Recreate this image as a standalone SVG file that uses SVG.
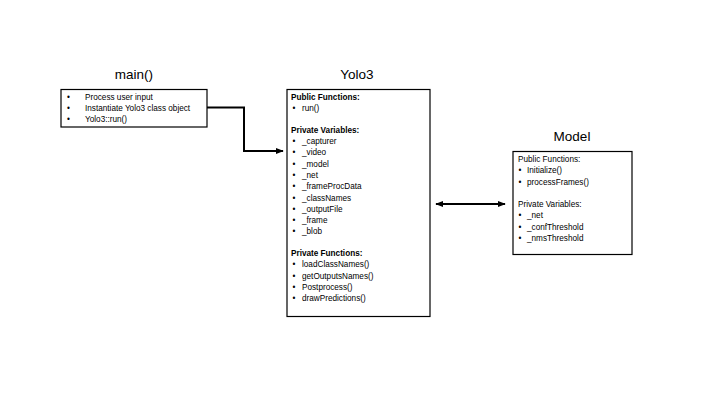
<svg xmlns="http://www.w3.org/2000/svg" width="720" height="405" viewBox="0 0 720 405">
<style>
.box{fill:#fff;stroke:#000;stroke-width:1.2}
.title{font-family:"Liberation Sans",Arial,sans-serif;font-size:13.5px;fill:#000;text-anchor:middle}
.t{font-family:"Liberation Sans",Arial,sans-serif;font-size:8.2px;fill:#000}
.b{font-weight:bold}
.conn{fill:none;stroke:#000;stroke-width:2}
</style>
<defs>
<marker id="ah" viewBox="0 0 10 10" refX="9" refY="5" markerWidth="4" markerHeight="4" orient="auto-start-reverse" markerUnits="strokeWidth">
<path d="M0,1 L10,5 L0,9 z" fill="#000"/>
</marker>
</defs>
<rect width="720" height="405" fill="#fff"/>
<g id="main">
<text class="title" x="134" y="79">main()</text>
<rect class="box" x="61" y="89.5" width="146" height="37.5"/>
<text class="t" x="67" y="100">•</text><text class="t" x="85" y="100">Process user input</text>
<text class="t" x="67" y="111">•</text><text class="t" x="85" y="111">Instantiate Yolo3 class object</text>
<text class="t" x="67" y="122">•</text><text class="t" x="85" y="122">Yolo3::run()</text>
</g>
<g id="yolo3">
<text class="title" x="357" y="79">Yolo3</text>
<rect class="box" x="287" y="89.5" width="143" height="227"/>
<text class="t b" x="291" y="100">Public Functions:</text>
<text class="t" x="292.5" y="111">•</text><text class="t" x="302" y="111">run()</text>
<text class="t b" x="291" y="133">Private Variables:</text>
<text class="t" x="292.5" y="144">•</text><text class="t" x="302" y="144">_capturer</text>
<text class="t" x="292.5" y="155.3">•</text><text class="t" x="302" y="155.3">_video</text>
<text class="t" x="292.5" y="166.6">•</text><text class="t" x="302" y="166.6">_model</text>
<text class="t" x="292.5" y="177.9">•</text><text class="t" x="302" y="177.9">_net</text>
<text class="t" x="292.5" y="189.2">•</text><text class="t" x="302" y="189.2">_frameProcData</text>
<text class="t" x="292.5" y="200.5">•</text><text class="t" x="302" y="200.5">_classNames</text>
<text class="t" x="292.5" y="211.8">•</text><text class="t" x="302" y="211.8">_outputFile</text>
<text class="t" x="292.5" y="223.1">•</text><text class="t" x="302" y="223.1">_frame</text>
<text class="t" x="292.5" y="234.4">•</text><text class="t" x="302" y="234.4">_blob</text>
<text class="t b" x="291" y="256">Private Functions:</text>
<text class="t" x="292.5" y="267.3">•</text><text class="t" x="302" y="267.3">loadClassNames()</text>
<text class="t" x="292.5" y="278.6">•</text><text class="t" x="302" y="278.6">getOutputsNames()</text>
<text class="t" x="292.5" y="289.9">•</text><text class="t" x="302" y="289.9">Postprocess()</text>
<text class="t" x="292.5" y="301.2">•</text><text class="t" x="302" y="301.2">drawPredictions()</text>
</g>
<g id="model">
<text class="title" x="572" y="141">Model</text>
<rect class="box" x="513" y="151.5" width="119" height="103"/>
<text class="t" x="518" y="162">Public Functions:</text>
<text class="t" x="518.5" y="173.3">•</text><text class="t" x="527" y="173.3">Initialize()</text>
<text class="t" x="518.5" y="184.6">•</text><text class="t" x="527" y="184.6">processFrames()</text>
<text class="t" x="518" y="207">Private Variables:</text>
<text class="t" x="518.5" y="218.3">•</text><text class="t" x="527" y="218.3">_net</text>
<text class="t" x="518.5" y="229.6">•</text><text class="t" x="527" y="229.6">_confThreshold</text>
<text class="t" x="518.5" y="240.9">•</text><text class="t" x="527" y="240.9">_nmsThreshold</text>
</g>
<g id="connectors">
<path class="conn" d="M207,107.5 H244 V151 H283" marker-end="url(#ah)"/>
<path class="conn" d="M436,204 H505" marker-start="url(#ah)" marker-end="url(#ah)"/>
</g>
</svg>
